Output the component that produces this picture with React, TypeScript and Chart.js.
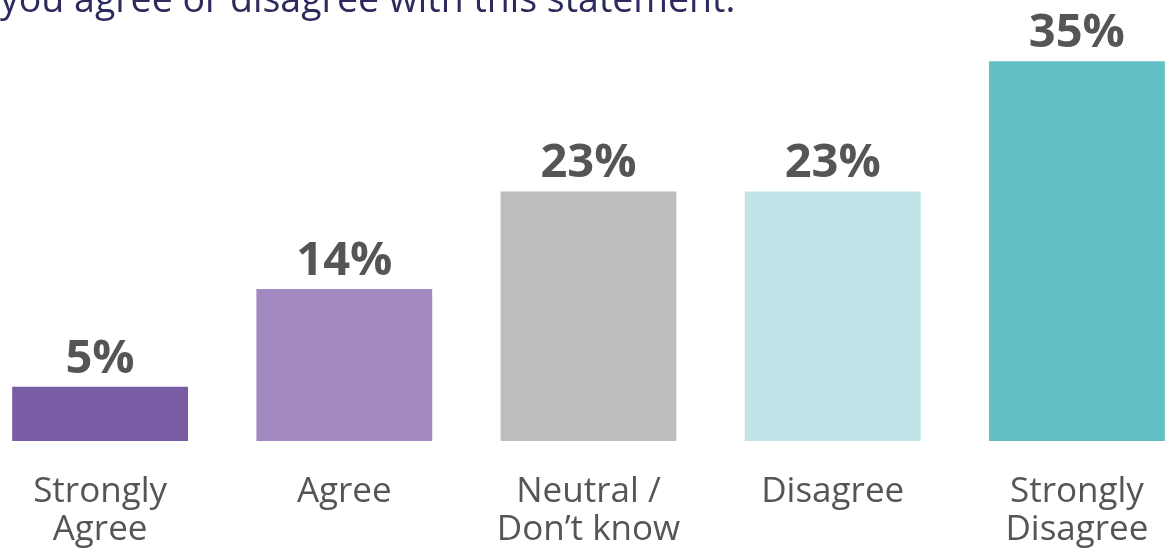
import React, { useEffect, useRef } from "react";
import { Chart, registerables } from "chart.js";

Chart.register(...registerables);

const titleText = "you agree or disagree with this statement.";
const categories: string[][] = [
  ["Strongly", "Agree"],
  ["Agree"],
  ["Neutral /", "Don\u2019t know"],
  ["Disagree"],
  ["Strongly", "Disagree"],
];
const values: number[] = [5, 14, 23, 23, 35];
const barColors: string[] = ["#785ca4", "#a289c0", "#bdbdbd", "#c0e4e7", "#62c0c4"];

const FONT = "'Open Sans', 'Noto Sans', sans-serif";

export default function App() {
  const ref = useRef<HTMLCanvasElement | null>(null);

  useEffect(() => {
    if (!ref.current) return;
    document.body.style.margin = "0";
    document.body.style.overflow = "hidden";

    const labelPlugin = {
      id: "valueLabels",
      afterDatasetsDraw(chart: any) {
        const ctx = chart.ctx;
        const meta = chart.getDatasetMeta(0);
        ctx.save();
        ctx.font = `bold 47px ${FONT}`;
        ctx.fillStyle = "#555555";
        ctx.textAlign = "center";
        ctx.textBaseline = "alphabetic";
        meta.data.forEach((bar: any, i: number) => {
          ctx.fillText(`${values[i]}%`, bar.x, bar.y - 14);
        });
        ctx.restore();
      },
    };

    const titlePlugin = {
      id: "cutTitle",
      afterDraw(chart: any) {
        const ctx = chart.ctx;
        ctx.save();
        ctx.font = `37.5px ${FONT}`;
        ctx.fillStyle = "#2d2b5e";
        ctx.textAlign = "left";
        ctx.textBaseline = "alphabetic";
        ctx.fillText(titleText, 22, 12);
        ctx.restore();
      },
    };

    const chart = new Chart(ref.current, {
      type: "bar",
      data: {
        labels: categories,
        datasets: [
          {
            data: values,
            backgroundColor: barColors,
            borderWidth: 0,
            categoryPercentage: 1,
            barPercentage: 0.72,
          },
        ],
      },
      options: {
        responsive: false,
        animation: false,
        layout: { padding: { top: 7, left: 0, right: 0, bottom: 0 } },
        plugins: {
          legend: { display: false },
          title: { display: false },
          tooltip: { enabled: false },
        },
        scales: {
          x: {
            grid: { display: false },
            border: { display: false },
            ticks: {
              autoSkip: false,
              maxRotation: 0,
              padding: 24,
              color: "#555555",
              font: { family: FONT, size: 35, lineHeight: "38px" },
            },
            afterFit(scale: any) {
              scale.height = 109;
            },
          },
          y: {
            display: false,
            min: 0,
            max: 40,
          },
        },
      },
      plugins: [labelPlugin, titlePlugin],
    });
    return () => chart.destroy();
  }, []);

  return (
    <div
      style={{
        position: "fixed",
        left: 0,
        top: 0,
        width: 1165,
        height: 550,
        overflow: "hidden",
        background: "#ffffff",
      }}
    >
      <canvas
        ref={ref}
        width={1221}
        height={550}
        style={{ position: "absolute", left: -22, top: 0, width: 1221, height: 550 }}
      />
    </div>
  );
}
